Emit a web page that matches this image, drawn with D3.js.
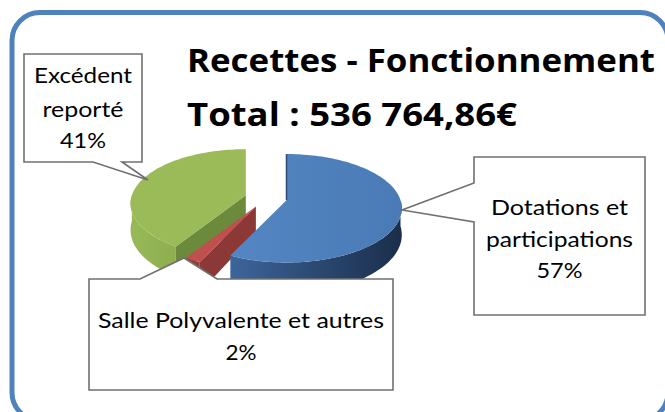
<!DOCTYPE html>
<html>
<head>
<meta charset="utf-8">
<script src="https://cdn.jsdelivr.net/npm/d3@7"></script>
<style>
  body { margin: 0; background: #fff; }
  svg { display: block; }
</style>
</head>
<body>
<div id="chart"></div>
<script>
// data
var categories = ["Dotations et participations", "Salle Polyvalente et autres", "Excédent reporté"];
var values = [57, 2, 41];
var labelLines = [["Dotations et", "participations"], ["Salle Polyvalente et autres"], ["Excédent", "reporté"]];
var titleLines = ["Recettes - Fonctionnement", "Total : 536 764,86€"];

var svgWidth = 665;
var svgHeight = 412;

// pie geometry (fake 3D, tilted ellipse with a little perspective)
var cx = 266, cy = 198, rx = 114, ry = 53, depth = 26, explode = 21, persp = 0.15;

var topColors = ["#4f81bd", "#c0504d", "#9bbb59"];
var cutColors = ["#2c4a75", "#8c3836", "#6b8a3c"];

var svg = d3.select("#chart")
  .append("svg")
  .attr("width", svgWidth)
  .attr("height", svgHeight);

var defs = svg.append("defs");

function hGrad(id, x1, x2, stops) {
  var g = defs.append("linearGradient")
    .attr("id", id)
    .attr("gradientUnits", "userSpaceOnUse")
    .attr("x1", x1).attr("x2", x2).attr("y1", 0).attr("y2", 0);
  stops.forEach(function(s) {
    g.append("stop").attr("offset", s[0]).attr("stop-color", s[1]);
  });
}
hGrad("wall0", 228, 402, [[0, "#3e669c"], [0.45, "#2d4c77"], [1, "#1b2e4a"]]);
hGrad("wall1", 180, 260, [[0, "#9a403d"], [1, "#7e302e"]]);
hGrad("wall2", 130, 250, [[0, "#98b957"], [1, "#7d9d45"]]);
hGrad("top0", 175, 400, [[0, "#5689c6"], [1, "#4a7bb7"]]);

// outer frame
svg.append("rect")
  .attr("x", 12).attr("y", 12.5)
  .attr("width", 656).attr("height", 408)
  .attr("rx", 28).attr("ry", 28)
  .attr("fill", "#fff")
  .attr("stroke", "#4f81bd")
  .attr("stroke-width", 5);

// title
var titleX = 187, titleBase = [72, 125.5], titleLen = [468, 330];
titleLines.forEach(function(t, i) {
  svg.append("text")
    .attr("x", titleX)
    .attr("y", titleBase[i])
    .attr("font-family", "'Open Sans', sans-serif")
    .attr("font-weight", "bold")
    .attr("font-size", "31.5px")
    .attr("fill", "#000")
    .attr("textLength", titleLen[i])
    .attr("lengthAdjust", "spacingAndGlyphs")
    .text(t);
});

var pie = d3.pie().sort(null).value(function(d) { return d; });
var slices = pie(values);

function scaleAt(a) { return 1 / (1 + persp * Math.cos(a)); }
function pt(c, a, bottom) {
  var s = scaleAt(a);
  return [c[0] + rx * Math.sin(a) * s, c[1] - ry * Math.cos(a) * s + (bottom ? depth * s : 0)];
}
function arcPts(c, a0, a1, bottom) {
  var n = Math.max(2, Math.ceil((a1 - a0) / 0.03));
  return d3.range(n + 1).map(function(k) { return pt(c, a0 + (a1 - a0) * k / n, bottom); });
}
var line = d3.line();

var pieGroup = svg.append("g");

// back to front: Excédent, Salle, Dotations
[2, 1, 0].forEach(function(i) {
  var s = slices[i];
  var a0 = s.startAngle, a1 = s.endAngle, mid = (a0 + a1) / 2;
  var c = [cx + explode * Math.sin(mid), cy - explode * Math.cos(mid) * ry / rx];
  var cb = [c[0], c[1] + depth];
  var g = pieGroup.append("g");

  // radial cut faces
  if (Math.sin(a0) < -0.01) {
    g.append("path")
      .attr("d", line([c, pt(c, a0), pt(c, a0, true), cb]) + "Z")
      .attr("fill", cutColors[i]);
  }
  if (Math.sin(a1) > 0.01) {
    g.append("path")
      .attr("d", line([c, pt(c, a1), pt(c, a1, true), cb]) + "Z")
      .attr("fill", cutColors[i]);
  }
  // outer wall (front half only)
  var w0 = Math.max(a0, Math.PI / 2), w1 = Math.min(a1, 3 * Math.PI / 2);
  if (w1 > w0) {
    var pts = arcPts(c, w0, w1).concat(arcPts(c, w0, w1, true).reverse());
    g.append("path")
      .attr("d", line(pts) + "Z")
      .attr("fill", "url(#wall" + i + ")");
  }
  // top face
  g.append("path")
    .attr("d", line([c].concat(arcPts(c, a0, a1))) + "Z")
    .attr("fill", i === 0 ? "url(#top0)" : topColors[i]);

  // thin dark rim on the 12 o'clock edge of the first slice
  if (a0 === 0) {
    g.append("path")
      .attr("d", line([pt(c, a0), c]))
      .attr("stroke", cutColors[i])
      .attr("stroke-width", 1.5)
      .attr("fill", "none");
  }
});

// callouts: box + pointer, then centered text
var callouts = [
  { path: "M474,157H645V315H474V222L402,210L474,183Z", x: 559.5, base: [215, 246.7, 278.3], len: [137, 147, 46] },
  { path: "M89,279H140L184,258L217,279H393V390H89Z", x: 241, base: [328, 360], len: [286, 31] },
  { path: "M24,54H142V162H122L148,180L93,162H24Z", x: 83, base: [83.3, 116.7, 148.3], len: [98, 81, 46] }
];

callouts.forEach(function(co, i) {
  svg.append("path")
    .attr("d", co.path)
    .attr("fill", "#fff")
    .attr("stroke", "#707070")
    .attr("stroke-width", 1.6);

  var lines = labelLines[i].concat([values[i] + "%"]);
  lines.forEach(function(t, j) {
    svg.append("text")
      .attr("x", co.x)
      .attr("y", co.base[j])
      .attr("text-anchor", "middle")
      .attr("font-family", "Lato, sans-serif")
      .attr("font-size", "21px")
      .attr("fill", "#000")
      .attr("textLength", co.len[j])
      .attr("lengthAdjust", "spacingAndGlyphs")
      .text(t);
  });
});
</script>
</body>
</html>
